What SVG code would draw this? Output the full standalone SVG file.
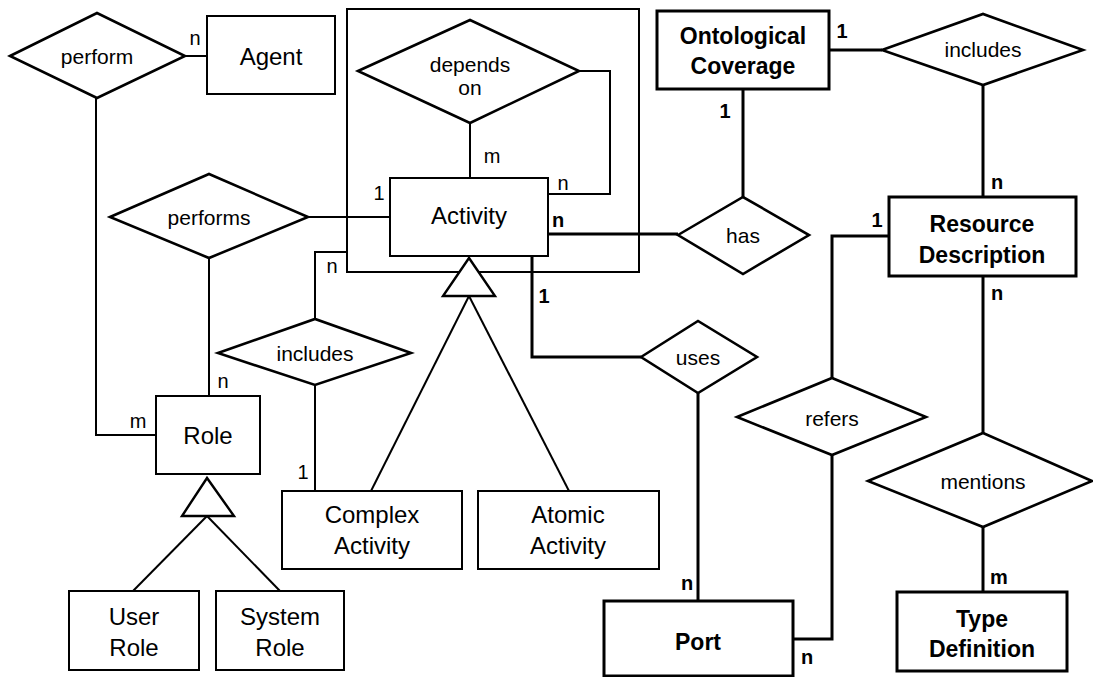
<svg xmlns="http://www.w3.org/2000/svg" width="1093" height="677" viewBox="0 0 1093 677">
<style>
.ent{fill:#fff;stroke:#000;stroke-width:2}
.entb{fill:#fff;stroke:#000;stroke-width:3}
.rel{fill:#fff;stroke:#000;stroke-width:2.6;stroke-linejoin:miter}
.ln{fill:none;stroke:#000;stroke-width:2}
.lnb{fill:none;stroke:#000;stroke-width:3}
.box{fill:none;stroke:#000;stroke-width:2}
.isa{fill:#fff;stroke:#000;stroke-width:2.4}
text{font-family:"Liberation Sans",Arial,Helvetica,sans-serif;fill:#000;text-anchor:middle}
.t{font-size:24px}
.tb{font-size:23px;font-weight:bold}
.r{font-size:21px}
.l{font-size:20px}
.lb{font-size:20px;font-weight:bold}
</style>
<rect width="1093" height="677" fill="#fff"/>
<g id="container"><rect class="box" x="347" y="9" width="292" height="263"/></g>
<g id="connectors">
<polyline class="ln" points="185,56 207,56"/>
<polyline class="ln" points="96,98 96,435 156,435"/>
<polyline class="ln" points="308,217 390,217"/>
<polyline class="ln" points="209,258 209,396"/>
<polyline class="ln" points="470,123 470,178"/>
<polyline class="ln" points="579,71 610,71 610,194 548,194"/>
<polyline class="lnb" points="548,234 678,234"/>
<polyline class="lnb" points="743,89 743,197"/>
<polyline class="lnb" points="829,50 882,50"/>
<polyline class="lnb" points="983,85 983,197"/>
<polyline class="lnb" points="889,236 832,236 832,378"/>
<polyline class="lnb" points="983,276 983,433"/>
<polyline class="lnb" points="983,527 983,592"/>
<polyline class="lnb" points="832,455 832,639 793,639"/>
<polyline class="lnb" points="698,393 698,601"/>
<polyline class="lnb" points="532,256 532,357 641,357"/>
<polyline class="ln" points="315,319 315,252 347,252"/>
<polyline class="ln" points="315,385 315,491"/>
<polyline class="ln" points="469,296 371,491"/>
<polyline class="ln" points="469,296 569,491"/>
<polyline class="ln" points="207,516 133,591"/>
<polyline class="ln" points="207,516 280,591"/>
<polygon class="isa" points="469,258 443,296 495,296"/>
<polygon class="isa" points="207,478 182,516 234,516"/>
<text class="l" x="195" y="45">n</text>
<text class="l" x="379" y="200">1</text>
<text class="l" x="492" y="163">m</text>
<text class="l" x="563" y="190">n</text>
<text class="lb" x="558" y="227">n</text>
<text class="lb" x="842" y="38">1</text>
<text class="lb" x="725" y="118">1</text>
<text class="lb" x="997" y="189">n</text>
<text class="lb" x="877" y="227">1</text>
<text class="lb" x="997" y="300">n</text>
<text class="l" x="332" y="273">n</text>
<text class="l" x="223" y="388">n</text>
<text class="l" x="138" y="428">m</text>
<text class="l" x="303" y="479">1</text>
<text class="lb" x="544" y="303">1</text>
<text class="lb" x="687" y="590">n</text>
<text class="lb" x="807" y="664">n</text>
<text class="lb" x="999" y="584">m</text>
</g>
<g id="perform"><polygon class="rel" points="10,56 97,13 185,56 97,98"/><text class="r" x="97" y="64">perform</text></g>
<g id="performs"><polygon class="rel" points="110,217 209,174 308,217 209,258"/><text class="r" x="209" y="225">performs</text></g>
<g id="depends-on"><polygon class="rel" points="358,71 470,20 579,71 470,123"/><text class="r" x="470" y="72">depends</text><text class="r" x="470" y="95">on</text></g>
<g id="includes-rd"><polygon class="rel" points="882,50 983,14 1083,50 983,85"/><text class="r" x="983" y="57">includes</text></g>
<g id="has"><polygon class="rel" points="678,235 743,197 809,235 743,274"/><text class="r" x="743" y="243">has</text></g>
<g id="uses"><polygon class="rel" points="641,357 698,321 757,357 698,393"/><text class="r" x="698" y="365">uses</text></g>
<g id="refers"><polygon class="rel" points="737,417 832,378 926,417 832,455"/><text class="r" x="832" y="426">refers</text></g>
<g id="includes-act"><polygon class="rel" points="218,353 315,319 411,353 315,385"/><text class="r" x="315" y="361">includes</text></g>
<g id="mentions"><polygon class="rel" points="868,481 983,433 1092,481 983,527"/><text class="r" x="983" y="489">mentions</text></g>
<g id="agent"><rect class="ent" x="207" y="16" width="128" height="78"/><text class="t" x="271" y="65">Agent</text></g>
<g id="activity"><rect class="ent" x="390" y="178" width="158" height="78"/><text class="t" x="469" y="224">Activity</text></g>
<g id="role"><rect class="ent" x="156" y="396" width="104" height="78"/><text class="t" x="208" y="444">Role</text></g>
<g id="ontological-coverage"><rect class="entb" x="657" y="11" width="172" height="78"/><text class="tb" x="743" y="44">Ontological</text><text class="tb" x="743" y="74">Coverage</text></g>
<g id="resource-description"><rect class="entb" x="889" y="197" width="187" height="79"/><text class="tb" x="982" y="232">Resource</text><text class="tb" x="982" y="263">Description</text></g>
<g id="complex-activity"><rect class="ent" x="282" y="491" width="180" height="78"/><text class="t" x="372" y="523">Complex</text><text class="t" x="372" y="554">Activity</text></g>
<g id="atomic-activity"><rect class="ent" x="478" y="491" width="181" height="78"/><text class="t" x="568" y="523">Atomic</text><text class="t" x="568" y="554">Activity</text></g>
<g id="user-role"><rect class="ent" x="69" y="591" width="130" height="79"/><text class="t" x="134" y="625">User</text><text class="t" x="134" y="656">Role</text></g>
<g id="system-role"><rect class="ent" x="216" y="591" width="128" height="79"/><text class="t" x="280" y="625">System</text><text class="t" x="280" y="656">Role</text></g>
<g id="port"><rect class="entb" x="604" y="601" width="189" height="75"/><text class="tb" x="698" y="650">Port</text></g>
<g id="type-definition"><rect class="entb" x="897" y="592" width="170" height="79"/><text class="tb" x="982" y="627">Type</text><text class="tb" x="982" y="657">Definition</text></g>
</svg>
